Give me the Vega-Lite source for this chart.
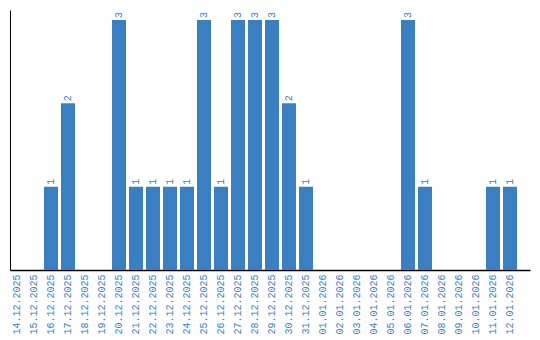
{
  "$schema": "https://vega.github.io/schema/vega-lite/v6.json",
  "autosize": "none",
  "padding": {"left": 10, "top": 10, "right": 10, "bottom": 70},
  "width": 520,
  "height": 260,
  "background": "white",
  "config": {"view": {"stroke": null}},
  "data": {"values": [
    {"date": "14.12.2025", "count": 0},
    {"date": "15.12.2025", "count": 0},
    {"date": "16.12.2025", "count": 1},
    {"date": "17.12.2025", "count": 2},
    {"date": "18.12.2025", "count": 0},
    {"date": "19.12.2025", "count": 0},
    {"date": "20.12.2025", "count": 3},
    {"date": "21.12.2025", "count": 1},
    {"date": "22.12.2025", "count": 1},
    {"date": "23.12.2025", "count": 1},
    {"date": "24.12.2025", "count": 1},
    {"date": "25.12.2025", "count": 3},
    {"date": "26.12.2025", "count": 1},
    {"date": "27.12.2025", "count": 3},
    {"date": "28.12.2025", "count": 3},
    {"date": "29.12.2025", "count": 3},
    {"date": "30.12.2025", "count": 2},
    {"date": "31.12.2025", "count": 1},
    {"date": "01.01.2026", "count": 0},
    {"date": "02.01.2026", "count": 0},
    {"date": "03.01.2026", "count": 0},
    {"date": "04.01.2026", "count": 0},
    {"date": "05.01.2026", "count": 0},
    {"date": "06.01.2026", "count": 3},
    {"date": "07.01.2026", "count": 1},
    {"date": "08.01.2026", "count": 0},
    {"date": "09.01.2026", "count": 0},
    {"date": "10.01.2026", "count": 0},
    {"date": "11.01.2026", "count": 1},
    {"date": "12.01.2026", "count": 1}
  ]},
  "encoding": {
    "x": {
      "field": "date", "type": "nominal", "sort": null,
      "scale": {"paddingInner": 0.1765, "paddingOuter": 0.382, "align": 0},
      "axis": {
        "title": null, "labelAngle": -90, "ticks": false, "labelPadding": 4,
        "labelFont": "Liberation Mono", "labelFontSize": 10, "labelColor": "#3a7fc2",
        "domainColor": "black", "domainWidth": 1.5, "grid": false
      }
    },
    "y": {
      "field": "count", "type": "quantitative",
      "scale": {"domain": [0, 3.12], "nice": false},
      "axis": {"title": null, "labels": false, "ticks": false, "grid": false, "domainColor": "black", "domainWidth": 1}
    }
  },
  "layer": [
    {"mark": {"type": "bar", "color": "#3b7fc3"}},
    {
      "transform": [{"filter": "datum.count > 0"}],
      "mark": {"type": "text", "angle": 270, "align": "left", "baseline": "middle", "dx": 2,
               "font": "Liberation Mono", "fontSize": 10, "color": "#3a7fc2"},
      "encoding": {"text": {"field": "count", "type": "quantitative"}}
    }
  ]
}
